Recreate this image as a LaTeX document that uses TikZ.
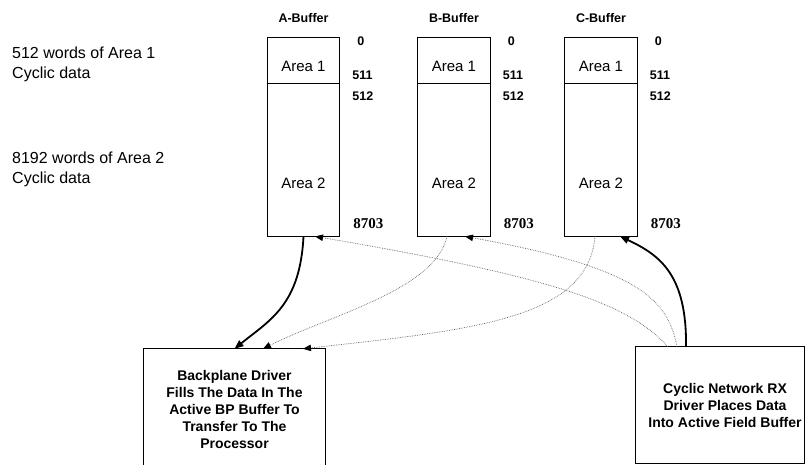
\documentclass[tikz,border=0pt]{standalone}
\usepackage{fontspec}
\setmainfont{Liberation Sans}
\newfontfamily\serifnum{Liberation Serif}
\usetikzlibrary{arrows.meta}

\begin{document}
\begin{tikzpicture}[x=1pt,y=-1pt,
  bufbox/.style={draw, line width=0.8pt, minimum width=72.5pt, minimum height=199pt, inner sep=0pt},
  area/.style={font=\fontsize{15}{18}\selectfont, inner sep=0pt},
  buftitle/.style={font=\bfseries\fontsize{12.5}{15}\selectfont, inner sep=0pt},
  addr/.style={font=\bfseries\fontsize{12.5}{15}\selectfont, anchor=west, inner sep=0pt},
  lastaddr/.style={font=\serifnum\bfseries\fontsize{15}{17}\selectfont, anchor=west, inner sep=0pt},
  note/.style={font=\fontsize{16}{20}\selectfont, align=left, anchor=base west, inner sep=0pt},
  driver/.style={align=center, inner sep=0pt, font=\bfseries\fontsize{14}{17}\selectfont},
  feed/.style={-{Triangle[length=9pt,width=7pt]}, line width=1.8pt},
  pass/.style={-{Triangle[length=8pt,width=6.5pt,color=black]}, densely dotted, black!60, line width=0.7pt}
]
\useasboundingbox (0,0) rectangle (806,464);
\clip (0,0) rectangle (806,464);

% Area descriptions on the left
\node[note] (noteone) at (12,78) {512 words of Area 1\\Cyclic data};
\node[note] (notetwo) at (12,183) {8192 words of Area 2\\Cyclic data};

% The three buffers
\foreach \b/\cx in {A/303.5, B/454, C/601} {
  \node[bufbox] (buf\b) at (\cx,136.5) {};
  \draw[line width=0.8pt] (buf\b.west |- 0,83) -- (buf\b.east |- 0,83);
  \node[buftitle] (title\b) at (\cx,18) {\b-Buffer};
  \node[area] (one\b) at (\cx,66) {Area 1};
  \node[area] (two\b) at (\cx,183) {Area 2};
  \node[addr] (first\b) at ([xshift=17pt,yshift=-5pt]buf\b.north east) {0};
  \node[addr] (endone\b) at ([xshift=12pt,yshift=-39pt]buf\b.north east) {511};
  \node[addr] (starttwo\b) at ([xshift=12pt,yshift=-60pt]buf\b.north east) {512};
  \node[lastaddr] (last\b) at ([xshift=13pt,yshift=13pt]buf\b.south east) {8703};
}

% Drivers
\node[driver, minimum width=181pt, minimum height=120pt] (bp) at (234.5,409)
  {Backplane Driver\\Fills The Data In The\\Active BP Buffer To\\Transfer To The\\Processor};
\draw[line width=0.8pt] (bp.south west) rectangle (bp.north east);
\node[driver, minimum width=178pt, minimum height=116pt] (cyc) at (725,405)
  {Cyclic Network RX\\Driver Places Data\\Into Active Field Buffer};
\draw[line width=0.8pt] (cyc.north west) rectangle (cyc.south -| 804.5,0);

% Backplane side
\draw[feed] (bufA.south) .. controls (300,305) and (270,320) .. (bp.north);
\draw[pass] ([xshift=-7pt]bufB.south) .. controls (435,290) and (330,315) .. ([xshift=28.5pt]bp.north);
\draw[pass] ([xshift=-6pt]bufC.south) .. controls (588,320) and (470,330) .. ([xshift=68.5pt]bp.north);

% Network side
\draw[feed] ([xshift=-39pt]cyc.north) .. controls (687,275) and (660,255) .. ([xshift=19pt]bufC.south);
\draw[pass] ([xshift=-57pt]cyc.north) .. controls (630,305) and (560,278) .. ([xshift=11.5pt]bufA.south);
\draw[pass] ([xshift=-48pt]cyc.north) .. controls (668,300) and (640,268) .. ([xshift=11pt]bufB.south);
\end{tikzpicture}
\end{document}
